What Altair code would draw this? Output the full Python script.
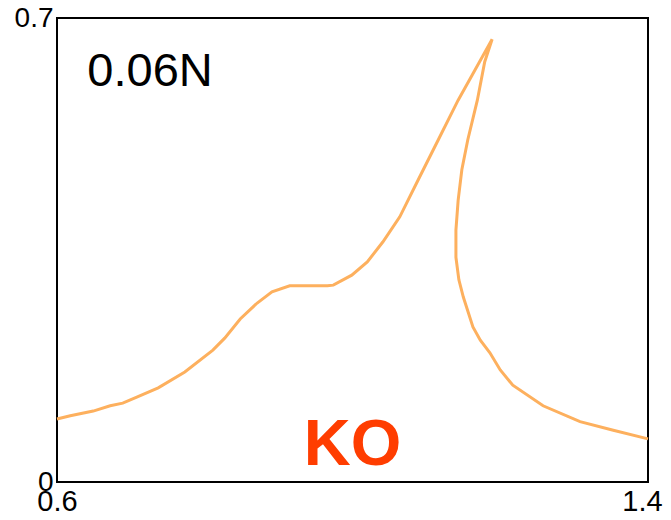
import altair as alt
import pandas as pd

# curve traced in drawing order (rising branch, tip, returning branch)
xs = [0.600, 0.618, 0.649, 0.672, 0.689, 0.708, 0.737, 0.773, 0.811, 0.827,
      0.848, 0.871, 0.891, 0.915, 0.966, 0.974, 0.999, 1.020, 1.041, 1.064,
      1.089, 1.116, 1.143, 1.166, 1.189,
      1.179, 1.169, 1.156, 1.148, 1.143, 1.140, 1.140, 1.144, 1.150, 1.163,
      1.173, 1.186, 1.200, 1.217, 1.258, 1.308, 1.353, 1.400]
ys = [0.095, 0.100, 0.107, 0.115, 0.119, 0.128, 0.142, 0.166, 0.199, 0.217,
      0.246, 0.270, 0.287, 0.296, 0.296, 0.297, 0.312, 0.332, 0.362, 0.400,
      0.456, 0.516, 0.576, 0.622, 0.668,
      0.634, 0.576, 0.516, 0.471, 0.425, 0.380, 0.339, 0.305, 0.279, 0.234,
      0.214, 0.195, 0.169, 0.146, 0.115, 0.091, 0.078, 0.065]

x_ticks = [0.6, 1.4]
y_ticks = [0, 0.7]

labels = ["0.06N", "KO"]
label_x = [0.641, 1.0]
label_y = [0.597, 0.026]

df = pd.DataFrame({"x": xs, "y": ys, "i": list(range(len(xs)))})

xscale = alt.Scale(domain=[0.6, 1.4], nice=False, zero=False)
yscale = alt.Scale(domain=[0, 0.7], nice=False, zero=False)

lbl = "datum.value == 0 ? '0' : format(datum.value, '.1f')"

line = alt.Chart(df).mark_line(color="#FDB05E", strokeWidth=3).encode(
    x=alt.X("x:Q", scale=xscale,
            axis=alt.Axis(values=x_ticks, title=None, grid=False, ticks=False,
                          labelFontSize=29, labelFont="Liberation Sans",
                          labelColor="black", labelPadding=5, domain=False,
                          labelFlush=False, labelOverlap=False, labelExpr=lbl,
                          labelOffset={"condition": {"test": "datum.value > 1", "value": -6},
                                       "value": 0})),
    y=alt.Y("y:Q", scale=yscale,
            axis=alt.Axis(values=y_ticks, title=None, grid=False, ticks=False,
                          labelFontSize=28, labelFont="Liberation Sans",
                          labelColor="black", labelPadding=4, domain=False,
                          labelFlush=False, labelOverlap=False, labelExpr=lbl)),
    order="i:Q",
)

t1 = alt.Chart(pd.DataFrame({"x": [label_x[0]], "y": [label_y[0]], "t": [labels[0]]})).mark_text(
    align="left", baseline="alphabetic", fontSize=47, font="Liberation Sans", color="black"
).encode(x=alt.X("x:Q", scale=xscale), y=alt.Y("y:Q", scale=yscale), text="t:N")

t2 = alt.Chart(pd.DataFrame({"x": [label_x[1]], "y": [label_y[1]], "t": [labels[1]]})).mark_text(
    align="center", baseline="alphabetic", fontSize=65, fontWeight="bold",
    font="Liberation Sans", color="#FF3D00"
).encode(x=alt.X("x:Q", scale=xscale), y=alt.Y("y:Q", scale=yscale), text="t:N")

chart = alt.layer(line, t1, t2).properties(
    width=591, height=464,
    autosize=alt.AutoSizeParams(type="none"),
    padding={"left": 49, "top": 10, "right": 15, "bottom": 30},
    background="white",
).configure_view(stroke="black", strokeWidth=2)

chart.save("out.html", embed_options={"renderer": "svg", "actions": False})
